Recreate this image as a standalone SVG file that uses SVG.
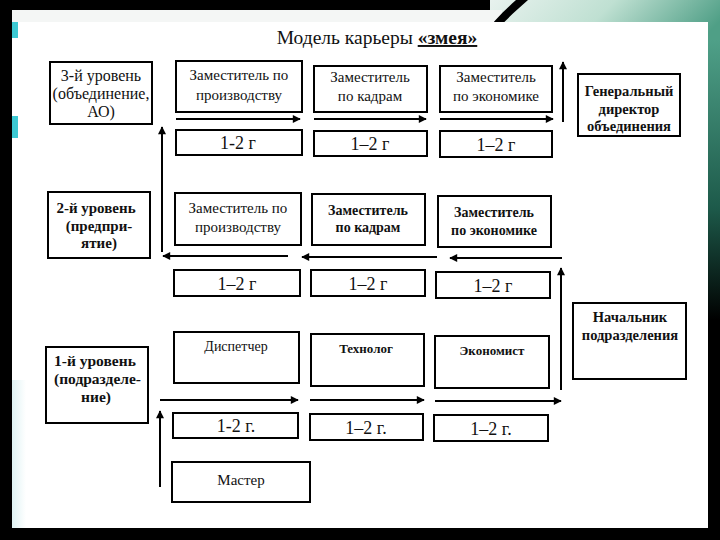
<svg xmlns="http://www.w3.org/2000/svg" width="720" height="540" viewBox="0 0 720 540">
<defs>
<linearGradient id="teal" x1="0" y1="0" x2="1" y2="0.3">
<stop offset="0" stop-color="#e8f2ee"/>
<stop offset="0.5" stop-color="#bfe0d2"/>
<stop offset="1" stop-color="#4f9f86"/>
</linearGradient>
<linearGradient id="tealR" x1="0" y1="0" x2="0" y2="1">
<stop offset="0" stop-color="#4fa088"/>
<stop offset="0.6" stop-color="#1d5a4a"/>
<stop offset="1" stop-color="#000"/>
</linearGradient>
<linearGradient id="cyanL" x1="0" y1="0" x2="1" y2="0">
<stop offset="0" stop-color="#bfe6e8"/>
<stop offset="1" stop-color="#ffffff"/>
</linearGradient>
<marker id="ah" viewBox="0 0 10 10" refX="9" refY="5" markerWidth="4.5" markerHeight="4" orient="auto" markerUnits="strokeWidth">
<path d="M0,0 L10,5 L0,10 Z" fill="#000"/>
</marker>
<style>
.box{fill:#fff;stroke:#000;stroke-width:2}
.t{font-family:"Liberation Serif","Times New Roman",serif;font-size:15px;fill:#111;text-anchor:middle}
.b{font-weight:bold}
.y{font-family:"Liberation Serif","Times New Roman",serif;font-size:18px;fill:#111;text-anchor:middle}
.ar{stroke:#000;stroke-width:2;fill:none;marker-end:url(#ah)}
</style>
</defs>
<rect x="0" y="0" width="720" height="540" fill="#000"/>
<rect x="490" y="0" width="230" height="70" fill="url(#teal)"/>
<rect x="700" y="40" width="20" height="280" fill="url(#tealR)"/>
<rect x="12" y="10" width="490" height="14" fill="#f4f6f5"/>
<path d="M528,0 C515,12 502,22 490,40 L480,40 C492,22 505,10 516,0 Z" fill="#000"/>
<rect x="12" y="22" width="696" height="506" fill="#fff"/>
<rect x="12" y="380" width="14" height="148" fill="url(#cyanL)" opacity="0.5"/>
<rect x="12" y="22" width="6" height="16" fill="#3cc8d2"/>
<rect x="12" y="116" width="6" height="22" fill="#3cc8d2"/>

<text x="377" y="44" font-family="Liberation Serif,Times New Roman,serif" font-size="19.5" text-anchor="middle" fill="#111">Модель карьеры <tspan font-weight="bold" text-decoration="underline">«змея»</tspan></text>

<g id="connectors">
<line class="ar" x1="176" y1="119" x2="300" y2="119"/>
<line class="ar" x1="314" y1="119" x2="426" y2="119"/>
<line class="ar" x1="440" y1="119" x2="553" y2="119"/>
<line class="ar" x1="563" y1="122" x2="563" y2="62"/>
<line class="ar" x1="162" y1="252" x2="162" y2="127"/>
<line class="ar" x1="288" y1="256" x2="163" y2="256"/>
<line class="ar" x1="437" y1="257" x2="302" y2="257"/>
<line class="ar" x1="562" y1="258" x2="450" y2="258"/>
<line class="ar" x1="561" y1="390" x2="561" y2="268"/>
<line class="ar" x1="160" y1="400" x2="298" y2="400"/>
<line class="ar" x1="310" y1="400" x2="424" y2="400"/>
<line class="ar" x1="435" y1="401" x2="561" y2="401"/>
<line class="ar" x1="160" y1="487" x2="160" y2="411"/>
</g>

<g id="level3"><rect class="box" x="50" y="62" width="102" height="62"/>
<text class="t" x="101" y="81" style="font-size:16px">3-й уровень</text><text class="t" x="101" y="99" style="font-size:16px">(объединение,</text><text class="t" x="101" y="117" style="font-size:16px">АО)</text></g>
<g id="r1a"><rect class="box" x="176" y="61" width="126" height="51"/>
<text class="t" x="239" y="80">Заместитель по</text><text class="t" x="239" y="100">производству</text></g>
<g id="r1b"><rect class="box" x="314" y="66" width="113" height="46"/>
<text class="t" x="370" y="82">Заместитель</text><text class="t" x="370" y="101">по кадрам</text></g>
<g id="r1c"><rect class="box" x="440" y="66" width="112" height="46"/>
<text class="t" x="496" y="82">Заместитель</text><text class="t" x="496" y="101">по экономике</text></g>
<g id="gendir"><rect class="box" x="578" y="74" width="102" height="62"/>
<text class="t b" x="629" y="96" style="font-size:14.5px">Генеральный</text><text class="t b" x="629" y="114" style="font-size:14.5px">директор</text><text class="t b" x="629" y="131" style="font-size:14.5px">объединения</text></g>
<g id="y1a"><rect class="box" x="176" y="130" width="126" height="25"/><text class="y" x="238" y="149">1-2 г</text></g>
<g id="y1b"><rect class="box" x="314" y="131" width="113" height="25"/><text class="y" x="370" y="150">1–2 г</text></g>
<g id="y1c"><rect class="box" x="440" y="131" width="112" height="26"/><text class="y" x="496" y="151">1–2 г</text></g>

<g id="level2"><rect class="box" x="48" y="192" width="102" height="66"/>
<text class="t b" x="96" y="213">2-й уровень</text><text class="t b" x="99" y="231">(предпри-</text><text class="t b" x="99" y="248">ятие)</text></g>
<g id="r2a"><rect class="box" x="175" y="193" width="126" height="52"/>
<text class="t" x="238" y="213">Заместитель по</text><text class="t" x="238" y="232">производству</text></g>
<g id="r2b"><rect class="box" x="312" y="194" width="113" height="51"/>
<text class="t b" x="368" y="215" style="font-size:14px">Заместитель</text><text class="t b" x="368" y="232" style="font-size:14px">по кадрам</text></g>
<g id="r2c"><rect class="box" x="438" y="196" width="113" height="51"/>
<text class="t b" x="494" y="217" style="font-size:14px">Заместитель</text><text class="t b" x="494" y="235" style="font-size:14px">по экономике</text></g>
<g id="y2a"><rect class="box" x="174" y="270" width="126" height="26"/><text class="y" x="237" y="290">1–2 г</text></g>
<g id="y2b"><rect class="box" x="311" y="270" width="114" height="26"/><text class="y" x="368" y="290">1–2 г</text></g>
<g id="y2c"><rect class="box" x="436" y="272" width="114" height="26"/><text class="y" x="493" y="292">1–2 г</text></g>

<g id="nachalnik"><rect class="box" x="573" y="303" width="113" height="76"/>
<text class="t b" x="630" y="322" style="font-size:14.5px">Начальник</text><text class="t b" x="630" y="340" style="font-size:14.5px">подразделения</text></g>

<g id="level1"><rect class="box" x="46" y="347" width="102" height="76"/>
<text class="t b" x="54" y="366" style="text-anchor:start;font-size:15.5px">1-й уровень</text><text class="t b" x="54" y="384" style="text-anchor:start;font-size:15.5px">(подразделе-</text><text class="t b" x="96" y="402" style="font-size:15.5px">ние)</text></g>
<g id="r3a"><rect class="box" x="174" y="332" width="125" height="51"/><text class="t" x="236" y="351" style="font-size:14px">Диспетчер</text></g>
<g id="r3b"><rect class="box" x="311" y="334" width="113" height="52"/><text class="t b" x="366" y="353" style="font-size:13px">Технолог</text></g>
<g id="r3c"><rect class="box" x="435" y="336" width="114" height="52"/><text class="t b" x="492" y="355" style="font-size:13px">Экономист</text></g>
<g id="y3a"><rect class="box" x="173" y="413" width="125" height="25"/><text class="y" x="236" y="432">1-2 г.</text></g>
<g id="y3b"><rect class="box" x="310" y="414" width="113" height="26"/><text class="y" x="366" y="434">1–2 г.</text></g>
<g id="y3c"><rect class="box" x="434" y="415" width="114" height="26"/><text class="y" x="491" y="435">1–2 г.</text></g>
<g id="master"><rect class="box" x="172" y="462" width="138" height="40"/><text class="t" x="241" y="485">Мастер</text></g>
</svg>
